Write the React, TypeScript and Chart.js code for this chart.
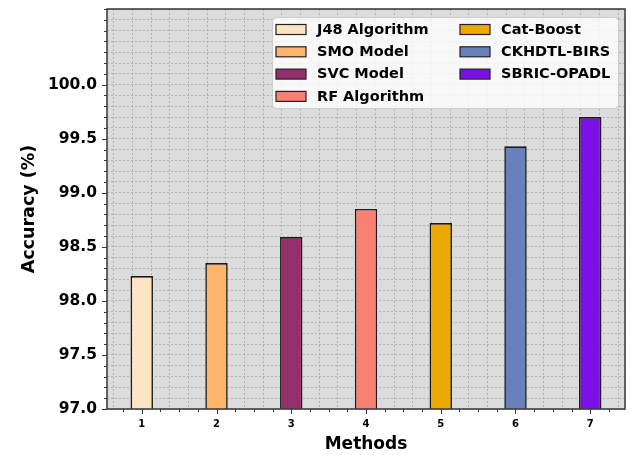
import React, { useEffect, useRef } from 'react';
import { Chart, registerables } from 'chart.js';

Chart.register(...registerables);

// ---- data ----
const methodPositions = [1, 2, 3, 4, 5, 6, 7];
const methodNames = [
  'J48 Algorithm',
  'SMO Model',
  'SVC Model',
  'RF Algorithm',
  'Cat-Boost',
  'CKHDTL-BIRS',
  'SBRIC-OPADL',
];
const accuracyValues = [98.23, 98.35, 98.59, 98.85, 98.72, 99.43, 99.7];
const barColors = ['#FFE4C4', '#FDB46B', '#952F6B', '#FA8072', '#EAA904', '#6981BB', '#7A10E4'];
const xTickLabels = ['1', '2', '3', '4', '5', '6', '7'];
const yTickLabels = ['97.0', '97.5', '98.0', '98.5', '99.0', '99.5', '100.0'];

const X_MIN = 0.535;
const X_MAX = 7.465;
const Y_MIN = 97;
const Y_MAX = 100.7;
const X_MINOR_STEP = 0.25;
const Y_MINOR_STEP = 0.1;
const BAR_WIDTH_UNITS = 0.3;

const FONT = "'DejaVu Sans', sans-serif";

function buildTicks(min: number, max: number, step: number) {
  const out: { value: number }[] = [];
  const start = Math.ceil(min / step - 1e-9);
  const end = Math.floor(max / step + 1e-9);
  for (let i = start; i <= end; i++) out.push({ value: Math.round(i * step * 1000) / 1000 });
  return out;
}

const plotDecor = {
  id: 'plotDecor',
  beforeDraw(chart: any) {
    const { ctx, chartArea: a } = chart;
    ctx.save();
    ctx.fillStyle = '#dcdcdc';
    ctx.fillRect(a.left, a.top, a.right - a.left, a.bottom - a.top);
    ctx.restore();
  },
  afterDatasetsDraw(chart: any) {
    const { ctx, chartArea: a, scales } = chart;
    ctx.save();
    ctx.strokeStyle = '#333333';
    ctx.lineWidth = 1;
    scales.x.ticks.forEach((t: any) => {
      const px = Math.round(scales.x.getPixelForValue(t.value)) + 0.5;
      const len = t.label ? 5 : 3;
      ctx.beginPath();
      ctx.moveTo(px, a.bottom);
      ctx.lineTo(px, a.bottom + len);
      ctx.stroke();
    });
    scales.y.ticks.forEach((t: any) => {
      const py = Math.round(scales.y.getPixelForValue(t.value)) + 0.5;
      const len = t.label ? 5 : 3;
      ctx.beginPath();
      ctx.moveTo(a.left, py);
      ctx.lineTo(a.left - len, py);
      ctx.stroke();
    });
    ctx.strokeStyle = '#404040';
    ctx.lineWidth = 1.6;
    ctx.strokeRect(a.left, a.top, a.right - a.left, a.bottom - a.top);
    ctx.restore();
  },
  afterDraw(chart: any) {
    const { ctx, chartArea: a } = chart;
    const w = 346;
    const h = 91;
    const x0 = a.right - 7 - w;
    const y0 = a.top + 8;
    ctx.save();
    ctx.beginPath();
    ctx.roundRect(x0 + 0.5, y0 + 0.5, w, h, 4);
    ctx.fillStyle = 'rgba(255,255,255,0.8)';
    ctx.fill();
    ctx.strokeStyle = '#cccccc';
    ctx.lineWidth = 1;
    ctx.stroke();
    ctx.font = `bold 14.5px ${FONT}`;
    ctx.textBaseline = 'middle';
    ctx.textAlign = 'left';
    const colX = [x0 + 4, x0 + 188];
    methodNames.forEach((name, i) => {
      const col = i < 4 ? 0 : 1;
      const row = i < 4 ? i : i - 4;
      const px = colX[col];
      const cy = y0 + 12.5 + row * 22.3;
      ctx.fillStyle = barColors[i];
      ctx.fillRect(px, cy - 5, 30, 10);
      ctx.strokeStyle = '#222222';
      ctx.lineWidth = 1.2;
      ctx.strokeRect(px, cy - 5, 30, 10);
      ctx.fillStyle = '#000000';
      ctx.fillText(name, px + 41, cy + 0.5);
    });
    ctx.restore();
  },
};

export default function App() {
  const ref = useRef<HTMLCanvasElement | null>(null);

  useEffect(() => {
    if (!ref.current) return;
    const chart = new Chart(ref.current, {
      type: 'bar',
      data: {
        datasets: [
          {
            label: 'Accuracy (%)',
            data: methodPositions.map((x, i) => ({ x, y: accuracyValues[i] })),
            backgroundColor: barColors,
            borderColor: '#1a1a1a',
            borderWidth: 1.6,
            borderSkipped: 'start',
            categoryPercentage: 1,
            // bar ruler uses the smallest tick gap (minor step), so scale the fraction to it
            barPercentage: BAR_WIDTH_UNITS / X_MINOR_STEP,
          } as any,
        ],
      },
      options: {
        animation: false,
        responsive: false,
        maintainAspectRatio: false,
        events: [],
        layout: { padding: { top: 9, right: 6, left: 0, bottom: 0 } },
        plugins: {
          legend: { display: false },
          tooltip: { enabled: false },
        },
        scales: {
          x: {
            type: 'linear',
            min: X_MIN,
            max: X_MAX,
            offset: false,
            afterBuildTicks: (s: any) => {
              s.ticks = buildTicks(X_MIN, X_MAX, X_MINOR_STEP);
            },
            afterFit: (s: any) => {
              s.height = 46;
              s.paddingLeft = 0;
              s.paddingRight = 0;
            },
            grid: { color: '#a9a9a9', lineWidth: 0.8, drawTicks: false },
            border: { display: false, dash: [2, 2] },
            ticks: {
              autoSkip: false,
              maxRotation: 0,
              padding: 9,
              color: '#000',
              font: { family: FONT, size: 10, weight: 'bold' },
              callback: (v: any) => {
                const val = Number(v);
                const idx = methodPositions.findIndex((p) => Math.abs(p - val) < 1e-6);
                return idx >= 0 ? xTickLabels[idx] : '';
              },
            },
            title: {
              display: true,
              text: 'Methods',
              color: '#000',
              font: { family: FONT, size: 17, weight: 'bold' },
              padding: { top: 0, bottom: 0 },
            },
          },
          y: {
            type: 'linear',
            min: Y_MIN,
            max: Y_MAX,
            afterBuildTicks: (s: any) => {
              s.ticks = buildTicks(Y_MIN, Y_MAX, Y_MINOR_STEP);
            },
            afterFit: (s: any) => {
              s.width = 107;
              s.paddingTop = 0;
              s.paddingBottom = 0;
            },
            grid: { color: '#a9a9a9', lineWidth: 0.8, drawTicks: false },
            border: { display: false, dash: [2, 2] },
            ticks: {
              autoSkip: false,
              padding: 10,
              color: '#000',
              font: { family: FONT, size: 15.5, weight: 'bold' },
              callback: (v: any) => {
                const val = Number(v);
                const lab = yTickLabels.find((l) => Math.abs(parseFloat(l) - val) < 1e-6);
                return lab ?? '';
              },
            },
            title: {
              display: true,
              text: 'Accuracy (%)',
              color: '#000',
              font: { family: FONT, size: 17.5, weight: 'bold' },
              padding: { top: 19, bottom: 0 },
            },
          },
        },
      },
      plugins: [plotDecor],
    });
    return () => chart.destroy();
  }, []);

  return (
    <div style={{ position: 'fixed', left: 0, top: 0, width: 631, height: 455 }}>
      <canvas ref={ref} width={631} height={455} style={{ width: 631, height: 455 }} />
    </div>
  );
}
